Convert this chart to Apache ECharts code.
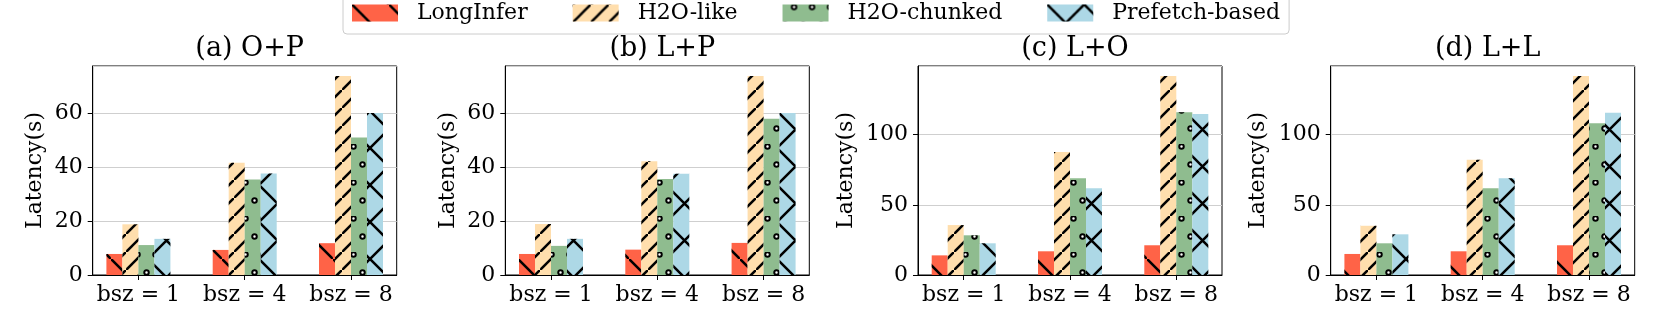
<!DOCTYPE html>
<html>
<head>
<meta charset="utf-8">
<script src="https://cdn.jsdelivr.net/npm/echarts@6/dist/echarts.min.js"></script>
<style>
  html, body { margin: 0; padding: 0; background: #fff; }
  #chart { width: 1661px; height: 332px; }
</style>
</head>
<body>
<div id="chart"></div>
<script>
const categories = ['bsz = 1', 'bsz = 4', 'bsz = 8']
const methods = ['LongInfer', 'H2O-like', 'H2O-chunked', 'Prefetch-based']
const panelTitles = ['(a) O+P', '(b) L+P', '(c) L+O', '(d) L+L']

// latency in seconds, one value per batch size
const opLongInfer = [7.8, 9.3, 11.8]
const opH2OLike = [18.8, 41.6, 73.8]
const opH2OChunked = [11.1, 35.4, 51.0]
const opPrefetch = [13.4, 37.6, 60.1]

const lpLongInfer = [7.8, 9.4, 11.9]
const lpH2OLike = [18.9, 42.2, 73.8]
const lpH2OChunked = [10.8, 35.6, 57.9]
const lpPrefetch = [13.4, 37.5, 60.1]

const loLongInfer = [14.0, 16.9, 21.2]
const loH2OLike = [35.6, 87.7, 141.8]
const loH2OChunked = [28.3, 68.9, 116.0]
const loPrefetch = [22.6, 61.8, 114.8]

const llLongInfer = [15.0, 16.9, 21.2]
const llH2OLike = [35.1, 82.2, 141.8]
const llH2OChunked = [22.6, 61.8, 108.1]
const llPrefetch = [29.0, 68.9, 115.7]

const panels = [
  [opLongInfer, opH2OLike, opH2OChunked, opPrefetch],
  [lpLongInfer, lpH2OLike, lpH2OChunked, lpPrefetch],
  [loLongInfer, loH2OLike, loH2OChunked, loPrefetch],
  [llLongInfer, llH2OLike, llH2OChunked, llPrefetch]
]

const font = '"DejaVu Serif", "Liberation Serif", serif'
const colors = ['#ff6347', '#ffdead', '#8fbc8f', '#add8e6']

// hatch patterns (\, //, oo, x) drawn as decals
function decal(symbol, dx, dy, size) {
  return {
    symbol: symbol,
    symbolSize: size || 1,
    symbolKeepAspect: false,
    color: '#000',
    backgroundColor: null,
    dashArrayX: dx,
    dashArrayY: dy,
    rotation: 0
  }
}
const decals = [
  decal('path://M0,0L1.8,0L37,35.2L37,37L35.2,37L0,1.8Z', [37, 0], [37, 0]),
  decal('path://M0,18L0,16.2L16.2,0L18,0L18,1.8L1.8,18Z', [18, 0], [18, 0]),
  decal('emptyCircle', [[5, 13], [0, 9, 5, 4]], [5, 13], 0.9),
  decal('path://M0,0L1.8,0L37,35.2L37,37L35.2,37L0,1.8ZM37,0L37,1.8L1.8,37L0,37L0,35.2L35.2,0Z', [37, 0], [37, 0])
]

const gridLefts = [92.7, 505.3, 918, 1330.7]
const plotWidth = 304
const yMax = [77.5, 77.5, 149, 149]
const yStep = [20, 20, 50, 50]
const nameGaps = [46, 46, 61, 61]

const chart = echarts.init(document.getElementById('chart'))

const option = {
  animation: false,
  textStyle: { fontFamily: font },
  title: panelTitles.map((t, i) => ({
    text: t,
    left: gridLefts[i] + plotWidth / 2,
    top: 30,
    textAlign: 'center',
    textStyle: { fontFamily: font, fontSize: 27, fontWeight: 'normal', color: '#000' }
  })),
  legend: {
    data: methods,
    icon: 'rect',
    left: 343,
    top: -10,
    padding: [12, 9, 10, 9],
    itemWidth: 46,
    itemHeight: 17,
    itemGap: 45,
    borderColor: '#cccccc',
    borderWidth: 1,
    borderRadius: 4,
    backgroundColor: '#fff',
    textStyle: { fontFamily: font, fontSize: 22, color: '#000', padding: [0, 0, 0, 14] }
  },
  grid: gridLefts.map(l => ({
    left: l,
    width: plotWidth,
    top: 66,
    height: 209,
    show: true,
    borderColor: '#000',
    borderWidth: 1,
    containLabel: false
  })),
  xAxis: gridLefts.map((l, i) => ({
    type: 'value',
    gridIndex: i,
    min: -0.43,
    max: 2.43,
    axisLine: { show: true, onZero: false, lineStyle: { color: '#000' } },
    axisTick: { show: true, length: 5, customValues: [0, 1, 2], lineStyle: { color: '#000' } },
    axisLabel: {
      customValues: [0, 1, 2],
      formatter: v => categories[v],
      fontFamily: font,
      fontSize: 22,
      color: '#000',
      margin: 9
    },
    splitLine: { show: false }
  })),
  yAxis: gridLefts.map((l, i) => ({
    type: 'value',
    gridIndex: i,
    min: 0,
    max: yMax[i],
    interval: yStep[i],
    name: 'Latency(s)',
    nameLocation: 'middle',
    nameGap: nameGaps[i],
    nameTextStyle: { fontFamily: font, fontSize: 22, color: '#000' },
    axisLine: { show: true, onZero: false, lineStyle: { color: '#000' } },
    axisTick: { show: true, length: 5, lineStyle: { color: '#000' } },
    axisLabel: { fontFamily: font, fontSize: 22, color: '#000', margin: 10, showMaxLabel: false },
    splitLine: { show: true, lineStyle: { color: '#cfcfcf', width: 1 } }
  })),
  series: []
}

panels.forEach((panel, p) => {
  panel.forEach((values, m) => {
    option.series.push({
      type: 'bar',
      name: methods[m],
      xAxisIndex: p,
      yAxisIndex: p,
      barWidth: 16,
      barGap: '0%',
      data: values.map((v, i) => [i, v]),
      itemStyle: { color: colors[m], decal: decals[m] }
    })
  })
})

chart.setOption(option)
</script>
</body>
</html>
